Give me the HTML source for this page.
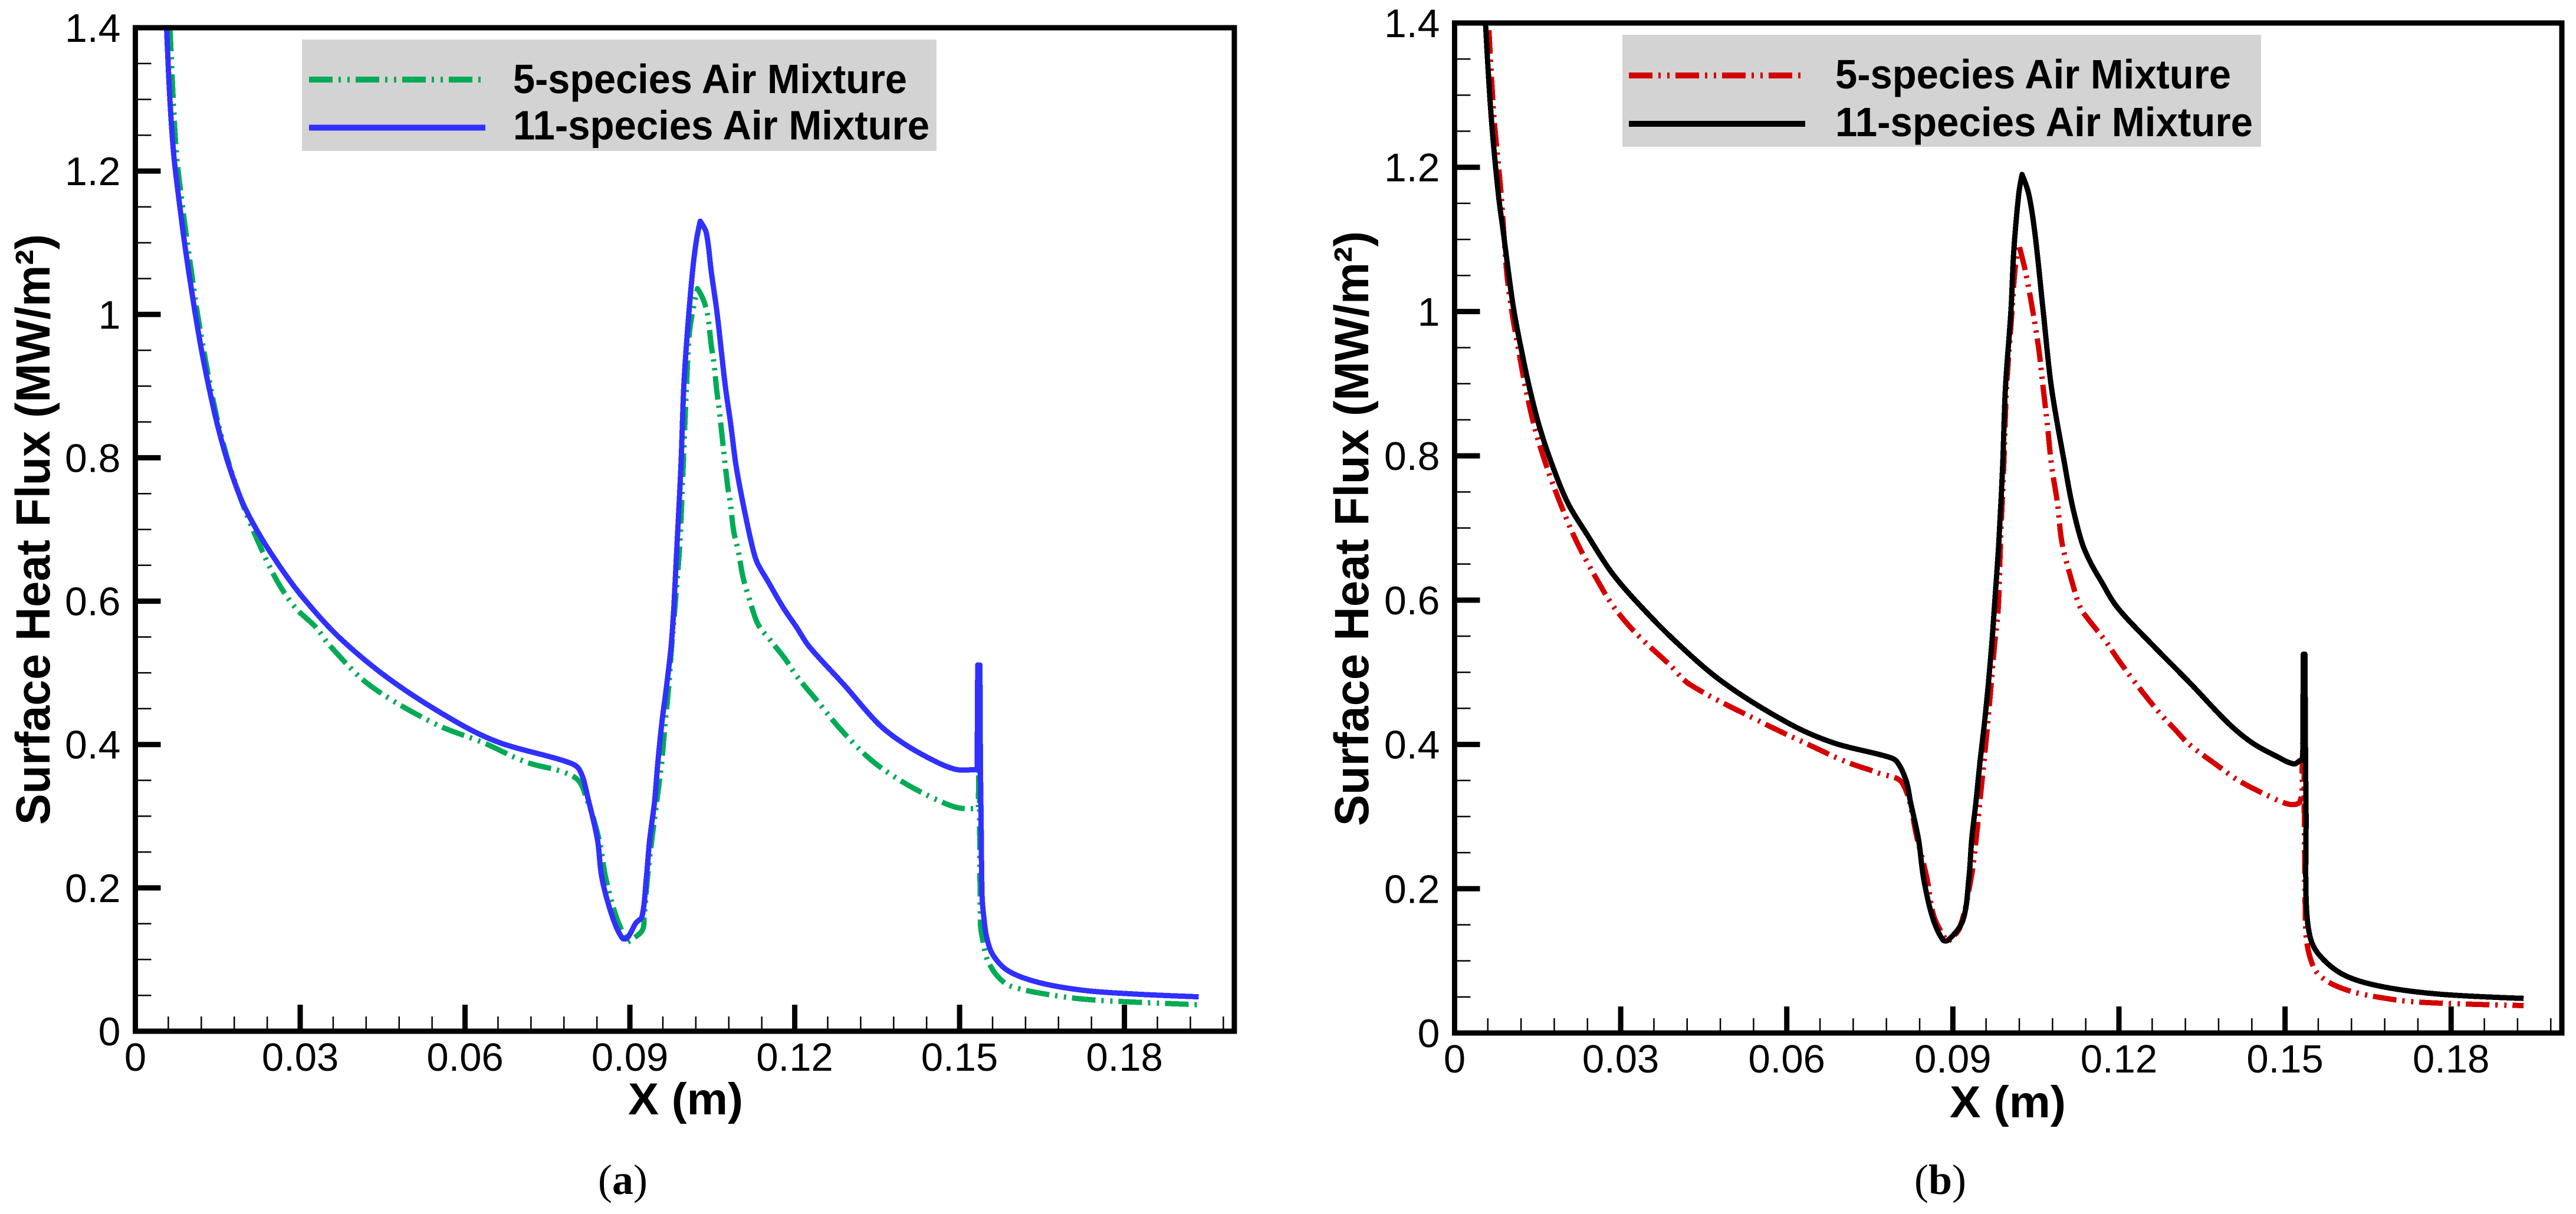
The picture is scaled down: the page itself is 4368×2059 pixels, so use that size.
<!DOCTYPE html>
<html lang="en">
<head>
<meta charset="utf-8">
<title>Surface Heat Flux vs X</title>
<style>
html,body{margin:0;padding:0;background:#fff;}
svg{display:block;}
text{font-family:"Liberation Sans",sans-serif;fill:#000;}
.caption{font-family:"Liberation Serif",serif;}
</style>
</head>
<body>
<svg id="figure" xmlns="http://www.w3.org/2000/svg" width="4368" height="2059" viewBox="0 0 4368 2059"></svg>
<script>
// Axis data
const xTickValues = [0, 0.03, 0.06, 0.09, 0.12, 0.15, 0.18];
const xTickLabels = ["0", "0.03", "0.06", "0.09", "0.12", "0.15", "0.18"];
const yTickValues = [0, 0.2, 0.4, 0.6, 0.8, 1, 1.2, 1.4];
const yTickLabels = ["0", "0.2", "0.4", "0.6", "0.8", "1", "1.2", "1.4"];
const xMinorValues = [0.006,0.012,0.018,0.024,0.036,0.042,0.048,0.054,0.066,0.072,0.078,0.084,0.096,0.102,0.108,0.114,0.126,0.132,0.138,0.144,0.156,0.162,0.168,0.174,0.186,0.192,0.198];
const yMinorValues = [0.05,0.1,0.15,0.25,0.3,0.35,0.45,0.5,0.55,0.65,0.7,0.75,0.85,0.9,0.95,1.05,1.1,1.15,1.25,1.3,1.35];

// Panel (a) series
const a5X = [.0063,.0069,.0075,.0083,.0092,.0102,.0112,.0124,.0137,.0152,.0171,.0195,.0224,.0258,.0291,.0328,.0355,.0426,.0545,.0635,.0709,.0800,.0823,.0844,.0856,.0875,.0895,.0922,.0926,.0932,.0940,.0949,.0958,.0964,.0971,.0976,.0982,.0991,.0997,.1003,.1009,.1023,.1034,.1042,.1048,.1053,.1058,.1063,.1070,.1078,.1083,.1089,.1097,.1106,.1117,.1133,.1155,.1182,.1204,.1244,.1279,.1325,.1360,.1414,.1476,.1503,.1534,.1535,.1536,.1538,.1543,.1551,.1571,.1596,.1680,.1756,.1935];
const a5Y = [1.40,1.298,1.222,1.168,1.114,1.06,1.006,.952,.898,.844,.790,.736,.682,.628,.591,.564,.537,.483,.429,.402,.376,.354,.321,.267,.214,.160,.124,.140,.160,.214,.267,.321,.376,.429,.483,.537,.591,.682,.790,.898,.979,1.036,1.020,.997,.957,.932,.894,.864,.814,.760,.735,.697,.671,.633,.604,.568,.546,.520,.495,.458,.425,.388,.366,.340,.317,.311,.311,.363,.50,.150,.124,.099,.075,.062,.049,.043,.037];
const a11X = [.0057,.0063,.0070,.0078,.0087,.0097,.0108,.0120,.0134,.0150,.0170,.0196,.0228,.0266,.0305,.0373,.0470,.0590,.0665,.0785,.0808,.0825,.0841,.0849,.0868,.0886,.0895,.0911,.0922,.0930,.0936,.0945,.0951,.0958,.0967,.0975,.0980,.0986,.0993,.0998,.1005,.1014,.1021,.1028,.1039,.1048,.1058,.1066,.1074,.1084,.1093,.1106,.1121,.1131,.1151,.1179,.1203,.1226,.1290,.1352,.1397,.1457,.1495,.1529,.1532,.1533,.1537,.1538,.1539,.1541,.1544,.1549,.1561,.1589,.1644,.1726,.1816,.1935];
const a11Y = [1.398,1.298,1.222,1.168,1.114,1.060,1.006,.952,.898,.844,.790,.736,.690,.645,.605,.548,.487,.429,.402,.376,.365,.321,.267,.214,.160,.130,.130,.151,.160,.214,.267,.321,.376,.429,.483,.537,.591,.682,.790,.898,.979,1.060,1.103,1.130,1.114,1.060,1.006,.952,.898,.844,.790,.736,.682,.655,.628,.591,.564,.537,.483,.429,.402,.376,.365,.365,.365,.511,.511,.365,.300,.187,.160,.132,.106,.084,.068,.057,.052,.048];

// Panel (b) series
const b5X = [.0062,.0071,.0084,.0094,.0103,.0115,.0128,.0144,.0165,.0191,.0221,.0259,.0288,.0329,.0389,.0425,.0559,.0633,.0707,.0767,.0809,.0836,.0853,.0866,.0890,.0912,.0933,.0942,.0949,.0963,.0975,.0982,.0986,.0992,.0997,.1007,.1012,.1019,.1031,.1044,.1055,.1063,.1071,.1078,.1089,.1097,.1115,.1130,.1142,.1177,.1200,.1235,.1274,.1301,.1327,.1381,.1416,.1469,.1508,.1527,.1531,.1534,.1537,.1544,.1562,.1610,.1690,.1760,.1931];
const b5Y = [1.39,1.271,1.163,1.056,1.002,.949,.895,.841,.788,.734,.680,.626,.590,.553,.510,.483,.429,.402,.376,.360,.346,.268,.215,.161,.126,.145,.215,.268,.322,.429,.536,.590,.680,.788,.895,1.002,1.056,1.093,1.056,1.002,.949,.895,.841,.788,.734,.680,.626,.590,.576,.542,.516,.480,.443,.421,.400,.369,.350,.329,.317,.321,.366,.50,.148,.108,.080,.060,.047,.042,.038];
const b11X = [.0056,.0066,.0079,.0088,.0097,.0107,.0120,.0135,.0153,.0176,.0205,.0240,.0282,.0326,.0396,.0485,.0604,.0685,.0782,.0799,.0816,.0823,.0838,.0847,.0863,.0882,.0892,.0918,.0929,.0934,.0942,.0949,.0957,.0964,.0970,.0975,.0983,.0990,.0995,.1005,.1010,.1019,.1025,.1037,.1048,.1063,.1078,.1102,.1115,.1133,.1148,.1168,.1197,.1263,.1331,.1398,.1441,.1486,.1516,.1528,.1532,.1533,.1536,.1537,.1538,.1538,.1545,.1562,.1605,.1671,.1776,.1931];
const b11Y = [1.397,1.271,1.163,1.110,1.056,1.002,.949,.895,.841,.788,.734,.690,.640,.600,.545,.486,.429,.402,.383,.376,.349,.322,.268,.215,.161,.129,.129,.156,.215,.268,.322,.376,.429,.483,.536,.590,.680,.788,.895,1.002,1.083,1.163,1.190,1.163,1.110,1.002,.895,.788,.734,.680,.653,.626,.590,.536,.483,.429,.402,.383,.373,.378,.378,.525,.525,.378,.300,.188,.134,.108,.081,.065,.054,.048];

const svg = document.getElementById('figure');
const NS = 'http://www.w3.org/2000/svg';

function make(tag, props, parent) {
  const el = document.createElementNS(NS, tag);
  for (const k in props) el.setAttribute(k, props[k]);
  parent.appendChild(el);
  return el;
}

// Smooth path through the data points; sharp corners (the spike) stay sharp.
function curvePath(xs, ys, sx, sy) {
  const pts = xs.map((v, i) => [sx(v), sy(ys[i])]);
  const unit = (a, b) => {
    const dx = b[0] - a[0], dy = b[1] - a[1], l = Math.hypot(dx, dy) || 1;
    return [dx / l, dy / l];
  };
  const tan = pts.map((p, i) => {
    if (i === 0 || i === pts.length - 1) return [0, 0];
    const u = unit(pts[i - 1], p), v = unit(p, pts[i + 1]);
    if (u[0] * v[0] + u[1] * v[1] < 0.3) return [0, 0];
    return unit(pts[i - 1], pts[i + 1]);
  });
  let d = 'M' + pts[0][0].toFixed(1) + ' ' + pts[0][1].toFixed(1);
  for (let i = 1; i < pts.length; i++) {
    const a = pts[i - 1], b = pts[i];
    const k = Math.hypot(b[0] - a[0], b[1] - a[1]) / 3;
    d += 'C' + (a[0] + tan[i - 1][0] * k).toFixed(1) + ' ' + (a[1] + tan[i - 1][1] * k).toFixed(1) + ' ' +
      (b[0] - tan[i][0] * k).toFixed(1) + ' ' + (b[1] - tan[i][1] * k).toFixed(1) + ' ' +
      b[0].toFixed(1) + ' ' + b[1].toFixed(1);
  }
  return d;
}

function drawPanel(p) {
  const g = make('g', {}, svg);
  
  

  const sx = v => p.left + (v - 0) / 0.2 * (p.right - p.left);
  const sy = v => p.bottom - (v - 0) / 1.4 * (p.bottom - p.top);

  // curves
  const dashed = make('path', {
    d: curvePath(p.x5, p.y5, sx, sy),
    fill: 'none', stroke: p.color5, 'stroke-width': 9, 'stroke-dasharray': '40 10 4 11 4 10',
    'stroke-linejoin': 'round', 'shape-rendering': 'crispEdges'
  }, g);
  
  

  const solid = make('path', {
    d: curvePath(p.x11, p.y11, sx, sy),
    fill: 'none', stroke: p.color11, 'stroke-width': 9,
    'stroke-linejoin': 'round', 'shape-rendering': 'crispEdges'
  }, g);
  
  

  // frame
  const frame = make('rect', {
    x: p.left, y: p.top, width: p.right - p.left, height: p.bottom - p.top,
    fill: 'none', stroke: '#000', 'stroke-width': 9
  }, g);
  
  

  // x ticks
  xTickValues.forEach((v, i) => {
    const t = make('line', { x1: sx(v), x2: sx(v), y1: p.bottom, y2: p.bottom - 45, stroke: '#000', 'stroke-width': 9 }, g);
    
    
    const lab = make('text', { x: sx(v), y: p.bottom + 67, 'text-anchor': 'middle', 'font-size': 67 }, g);
    lab.textContent = xTickLabels[i];
    
    
  });
  xMinorValues.forEach(v => {
    const t = make('line', { x1: sx(v), x2: sx(v), y1: p.bottom, y2: p.bottom - 25, stroke: '#000', 'stroke-width': 2.5 }, g);
    
    
  });

  // y ticks
  yTickValues.forEach((v, i) => {
    const t = make('line', { x1: p.left, x2: p.left + 43, y1: sy(v), y2: sy(v), stroke: '#000', 'stroke-width': 9 }, g);
    
    
    const lab = make('text', { x: p.left - 25, y: sy(v) + 24, 'text-anchor': 'end', 'font-size': 68 }, g);
    lab.textContent = yTickLabels[i];
    
    
  });
  yMinorValues.forEach(v => {
    const t = make('line', { x1: p.left, x2: p.left + 27, y1: sy(v), y2: sy(v), stroke: '#000', 'stroke-width': 2.5 }, g);
    
    
  });

  // axis titles
  const yt = make('text', {
    transform: 'translate(' + p.yTitleX + ',' + p.yTitleBottom + ') rotate(-90)',
    'font-size': 82, 'font-weight': 'bold', textLength: p.yTitleLen, lengthAdjust: 'spacingAndGlyphs'
  }, g);
  yt.textContent = 'Surface Heat Flux (MW/m\u00B2)';
  
  

  const xt = make('text', {
    x: p.xTitleX, y: p.xTitleY, 'font-size': 76, 'font-weight': 'bold',
    textLength: p.xTitleLen, lengthAdjust: 'spacingAndGlyphs'
  }, g);
  xt.textContent = 'X (m)';
  
  

  // legend
  const leg = make('g', {}, g);
  
  
  const bg = make('rect', { x: p.legX, y: p.legY, width: p.legW, height: p.legH, fill: '#d3d3d3' }, leg);
  
  

  const l5 = make('line', {
    x1: p.legLineX, x2: p.legLineX + 292, y1: p.legY1, y2: p.legY1, stroke: p.color5,
    'stroke-width': 10, 'stroke-dasharray': '40 10 4 11 4 10'
  }, leg);
  
  

  const l11 = make('line', {
    x1: p.legLineX, x2: p.legLineX + 299, y1: p.legY2, y2: p.legY2, stroke: p.color11, 'stroke-width': 10
  }, leg);
  
  

  const t5 = make('text', {
    x: p.legTextX, y: p.legBase1, 'font-size': 70, 'font-weight': 'bold',
    textLength: p.legLen1, lengthAdjust: 'spacingAndGlyphs'
  }, leg);
  t5.textContent = '5-species Air Mixture';
  
  

  const t11 = make('text', {
    x: p.legTextX, y: p.legBase2, 'font-size': 70, 'font-weight': 'bold',
    textLength: p.legLen2, lengthAdjust: 'spacingAndGlyphs'
  }, leg);
  t11.textContent = '11-species Air Mixture';
  
  

  // caption
  const cap = make('text', { x: p.capX, y: 2025, 'font-size': 72, class: 'caption' }, g);
  
  
  const open = document.createTextNode('(');
  cap.appendChild(open);
  const bold = make('tspan', { 'font-weight': 'bold' }, cap);
  bold.textContent = p.letter;
  cap.appendChild(document.createTextNode(')'));
}

drawPanel({
  id: 'panel-a', letter: 'a', left: 229.5, right: 2093, top: 47, bottom: 1749,
  x5: a5X, y5: a5Y, x11: a11X, y11: a11Y, color5: '#00ab55', color11: '#3030ff',
  yTitleX: 84, yTitleBottom: 1399, yTitleLen: 1002,
  xTitleX: 1065, xTitleY: 1890, xTitleLen: 195,
  legX: 512, legY: 67, legW: 1076, legH: 189, legLineX: 524, legY1: 135, legY2: 216.5,
  legTextX: 870, legBase1: 158, legBase2: 236.5, legLen1: 668, legLen2: 706,
  capX: 1014
});

drawPanel({
  id: 'panel-b', letter: 'b', left: 2466.5, right: 4344, top: 39, bottom: 1752,
  x5: b5X, y5: b5Y, x11: b11X, y11: b11Y, color5: '#d40000', color11: '#000000',
  yTitleX: 2320, yTitleBottom: 1401, yTitleLen: 1009,
  xTitleX: 3306, xTitleY: 1895, xTitleLen: 197,
  legX: 2751, legY: 59, legW: 1083, legH: 190, legLineX: 2762, legY1: 128, legY2: 210,
  legTextX: 3112, legBase1: 150, legBase2: 231, legLen1: 671, legLen2: 708,
  capX: 3246
});
</script>
</body>
</html>
